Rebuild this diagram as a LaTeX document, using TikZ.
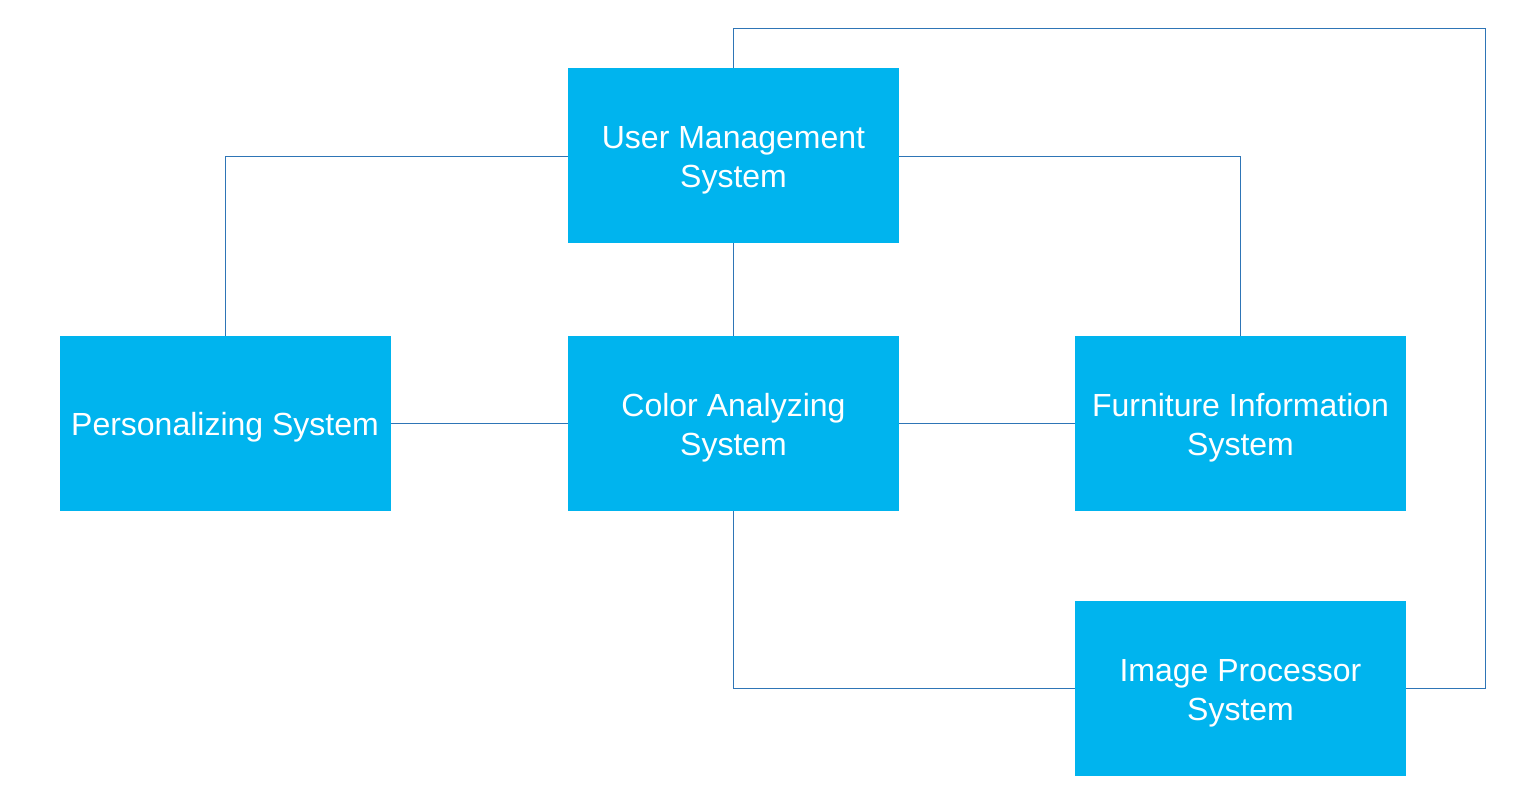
\documentclass[tikz,border=0pt]{standalone}
\usepackage{fontspec}
\setmainfont{Liberation Sans}
\definecolor{boxblue}{HTML}{00B4EE}
\definecolor{lineblue}{HTML}{2E75B6}
\newcommand{\boxtext}[1]{\raisebox{0pt}[\dimexpr\height+7pt\relax][\depth]{\begin{tabular}{@{}c@{}}#1\end{tabular}}}
\begin{document}
\begin{tikzpicture}[x=0.75pt,y=-0.75pt,
  sysbox/.style={rectangle, fill=boxblue, draw=none, minimum width=248.25pt, minimum height=131.25pt, inner sep=0pt, text=white, font=\fontsize{24}{29}\selectfont},
  conn/.style={draw=lineblue, line width=0.75pt}]
\useasboundingbox (0,0) rectangle (1520,801);
\node[sysbox] (um) at (733.5,155.5) {\boxtext{User Management\\System}};
\node[sysbox] (ps) at (225,423.5) {\boxtext{Personalizing System}};
\node[sysbox] (ca) at (733.5,423.5) {\boxtext{Color Analyzing\\System}};
\node[sysbox] (fi) at (1240.5,423.5) {\boxtext{Furniture Information\\System}};
\node[sysbox] (ip) at (1240.5,688.5) {\boxtext{Image Processor\\System}};
\coordinate (c1) at (225,156);
\coordinate (c2) at (1240.5,156);
\coordinate (c3) at (733.5,688);
\coordinate (c4) at (733.5,28);
\coordinate (c5) at (1485,28);
\coordinate (c6) at (1485,688);
\draw[conn] (um.west |- c1) -- (c1) -- (ps.north);
\draw[conn] (um.east |- c2) -- (c2) -- (fi.north);
\draw[conn] (um.south) -- (ca.north);
\draw[conn] (ps.east) -- (ca.west);
\draw[conn] (ca.east) -- (fi.west);
\draw[conn] (ca.south) -- (c3) -- (ip.west |- c3);
\draw[conn] (um.north) -- (c4) -- (c5) -- (c6) -- (ip.east |- c6);
\end{tikzpicture}
\end{document}
